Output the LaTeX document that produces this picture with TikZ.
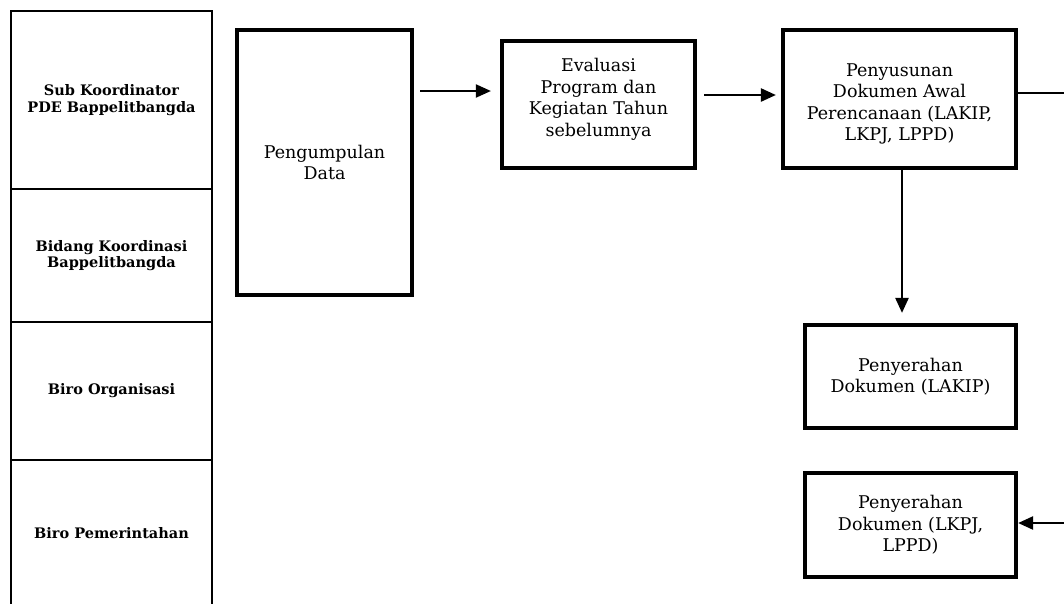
\documentclass[tikz,border=0pt]{standalone}
\usepackage{fontspec}
\setmainfont{DejaVu Serif}
\usetikzlibrary{arrows.meta,calc}

\tikzset{
  lane/.style={draw, line width=1.4pt, minimum width=201pt, inner sep=0pt,
    align=center, font=\fontsize{14.5}{16.5}\selectfont\bfseries},
  procbox/.style={draw, line width=4.2pt, inner sep=0pt, align=center,
    font=\fontsize{17.5}{21.5}\selectfont},
  flow/.style={line width=2.4pt, -{Triangle[length=15pt,width=13pt]}},
  plain/.style={line width=2.4pt}
}

\begin{document}
\begin{tikzpicture}[x=1pt,y=-1pt]
  \useasboundingbox (0,0) rectangle (1064,603);
  \clip (0,0) rectangle (1064,603);

  % swimlane labels on the left
  \node[lane, minimum height=178pt] (l1) at (111.5,100)
    {Sub Koordinator\\PDE Bappelitbangda};
  \node[lane, minimum height=133pt] (l2) at (111.5,255.5)
    {Bidang Koordinasi\\Bappelitbangda};
  \node[lane, minimum height=138pt] (l3) at (111.5,391) {Biro Organisasi};
  \node[lane, minimum height=146pt] (l4) at (111.5,533) {Biro Pemerintahan};

  % process steps
  \node[procbox, minimum width=175pt, minimum height=265pt] (pd) at (324.5,162.5)
    {Pengumpulan\\Data};
  \node[procbox, minimum width=193pt, minimum height=127pt] (ev) at (598.5,104.5)
    {Evaluasi\\Program dan\\Kegiatan Tahun\\sebelumnya\\[-7pt]};
  \node[procbox, minimum width=233pt, minimum height=138pt] (pen) at (899.5,99)
    {Penyusunan\\Dokumen Awal\\Perencanaan (LAKIP,\\LKPJ, LPPD)\\[-28pt]};
  \node[procbox, minimum width=211pt, minimum height=103pt] (lakip) at (910.5,376.5)
    {Penyerahan\\Dokumen (LAKIP)};
  \node[procbox, minimum width=211pt, minimum height=104pt] (lkpj) at (910.5,525)
    {Penyerahan\\Dokumen (LKPJ,\\LPPD)};

  % helper coordinates for connector heights and the outer return path
  \coordinate (ya) at (0,91);
  \coordinate (yb) at (0,95);
  \coordinate (yc) at (0,93);
  \coordinate (rt) at (1080,93);
  \coordinate (rb) at (1080,523);

  % connectors
  \draw[flow, line width=2pt, shorten <=6pt, shorten >=9pt]
    (pd.east |- ya) -- (ev.west |- ya);
  \draw[flow, shorten <=7pt, shorten >=5pt]
    (ev.east |- yb) -- (pen.west |- yb);
  \draw[flow, shorten >=10pt]
    ($(pen.south)+(2.5,0)$) -- ($(pen.south |- lakip.north)+(2.5,0)$);
  \draw[plain] (pen.east |- yc) -- (rt) -- (rb);
  \draw[flow] (rb) -- (lkpj.east |- rb);
\end{tikzpicture}
\end{document}
